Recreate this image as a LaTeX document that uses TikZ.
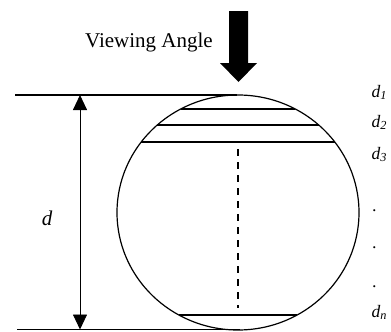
\documentclass[tikz,border=0pt]{standalone}
\usepackage{fontspec}
\setmainfont{Liberation Serif}
\usetikzlibrary{arrows.meta,calc}
\begin{document}
\begin{tikzpicture}[x=1pt,y=-1pt,line width=1.2pt,
  lbl/.style={font=\fontsize{17.5}{18}\selectfont\itshape,anchor=base west,inner sep=0pt}]
\useasboundingbox (0,0) rectangle (391,332);
\coordinate (c) at (238,212.5);
\coordinate (top) at (80,95);
\coordinate (bot) at (80,329.5);
% viewing direction
\node[font=\fontsize{21}{21}\selectfont,anchor=base,inner sep=0pt] (view) at (149,47) {Viewing Angle};
\fill (229,11) -- (248,11) -- (248,63) -- (257,63) -- (238.5,82) -- (220,63) -- (229,63) -- cycle;
% tangent lines
\draw (15,95) -- (237,95);
\draw (17,329.5) -- (240,329.5);
\draw (c) ellipse [x radius=121pt,y radius=117.5pt];
\foreach \yc in {109,125,142,315}{
  \pgfmathsetmacro\hw{121*sqrt(1-((\yc-212.5)/117.5)^2)}
  \draw ({238-\hw},\yc) -- ({238+\hw},\yc);
}
\draw[dash pattern=on 7pt off 6pt] (238,149) -- (238,308);
\draw[line width=0.9pt,<->,>={Triangle[length=15pt,width=14pt]}] (top) -- (bot);
\node[font=\fontsize{21}{21}\selectfont\itshape] (dlen) at (47,218) {d};
% layer labels
\foreach \s/\yb in {1/97,2/127,3/159,n/317}
  \node[lbl] (d\s) at (371,\yb) {d\textsubscript{\s}};
\foreach \yb [count=\k] in {211,248,287}
  \node[lbl] (dot\k) at (372,\yb) {.};
\end{tikzpicture}
\end{document}
